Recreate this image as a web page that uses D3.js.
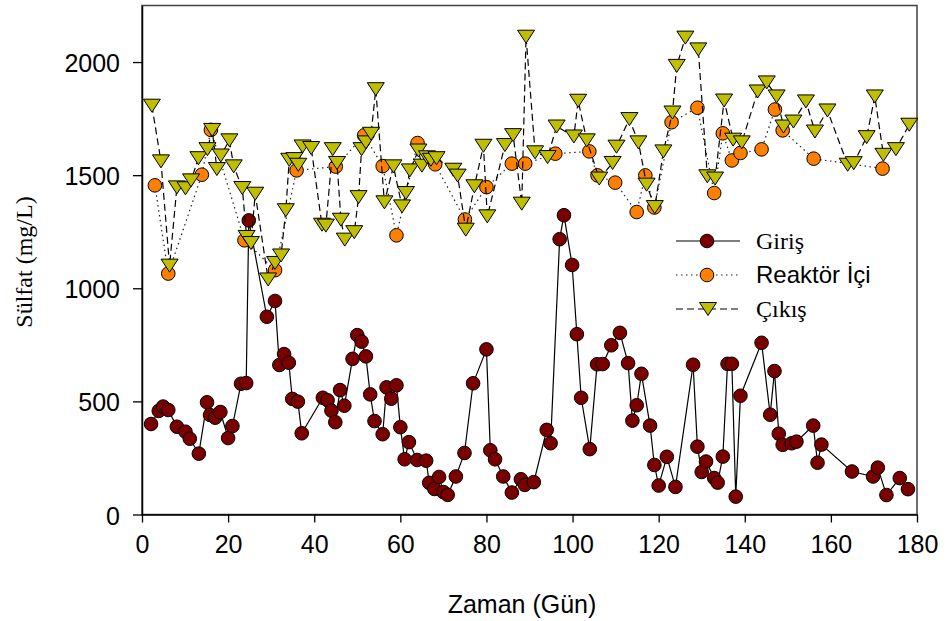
<!DOCTYPE html>
<html><head><meta charset="utf-8">
<script src="https://cdn.jsdelivr.net/npm/d3@7"></script>
<style>body{margin:0;background:#fff}svg{display:block}</style>
</head><body><svg id="c" width="947" height="621"></svg>
<script>
const xTicks = [0,20,40,60,80,100,120,140,160,180];
const yTicks = [0,500,1000,1500,2000];
const seriesNames = ["Giriş","Reaktör İçi","Çıkış"];

const girisDays = [2.1,3.9,4.9,6.1,8.1,10.1,11.1,13.2,15.1,15.8,17,18.2,20,21,23,24.2,24.8,29,30.9,31.9,33,34.1,34.9,36.2,37.1,42,43.1,44,44.9,46,47,48.9,50,51,52,53,54,55.9,56.8,57.9,59.1,60,61,62,63.9,66,66.7,67.9,69,70,71,72.9,74.9,76.9,80,80.9,82,83.9,85.9,88,88.9,91,94,94.9,97,98,99.9,101,102,104,105.7,107,109,111,112.9,113.9,114.9,116,118,119,120,121.9,123.9,128,129,130,131,132.9,133.7,134.9,136,137,137.9,139,143.9,145.9,146.9,147.9,148.8,150.9,152,155.9,156.9,157.8,164.9,169.8,170.9,172.9,176,177.9];
const girisValues = [400,458,477,462,388,366,335,269,496,440,428,453,338,391,578,581,1300,874,944,661,709,671,511,499,359,516,505,459,408,550,481,688,793,764,699,531,413,355,562,512,571,386,244,320,241,238,140,113,166,99,87,168,272,580,730,284,244,168,97,156,131,143,374,315,1217,1323,1103,797,516,289,664,665,748,803,669,415,483,622,393,219,128,255,122,662,300,188,234,161,141,256,666,666,79,525,759,441,634,357,308,315,322,393,229,309,190,168,207,86,161,112];

const reaktorDays = [3,6.1,13.9,16,23.8,30.9,35.9,45,51.6,55.9,59.1,64,68.1,75,80,85.9,89,96,103.9,105.8,109.9,114.9,116.9,119,123,129,132.9,134.9,137,139,143.9,147,148.8,156,172];
const reaktorValues = [1455,1065,1502,1700,1212,1080,1521,1538,1676,1540,1234,1642,1548,1304,1447,1551,1551,1595,1605,1499,1467,1337,1499,1357,1734,1798,1421,1685,1565,1598,1614,1790,1698,1573,1529];

const cikisDays = [2.3,4.4,6.4,8.1,10.1,11.4,13.1,15.2,16.3,17.4,18.3,20.3,21.3,23.3,24.3,25.3,26.3,29.3,30.9,32.3,33.4,34.2,35.4,36.3,37.3,39.3,41.8,42.7,44.3,45.3,46.2,47.1,49.3,50.3,51,52,53.2,54.3,56.3,58.4,60.4,61.3,62.2,64.2,65,66.2,67.1,68.4,72.3,73.3,75.2,77.2,79.3,80.2,84.3,86.2,88.2,89.2,91.3,94.2,96.3,100.3,101.3,103.3,106.2,109.3,110.2,113.2,115.3,117.2,119.1,121.1,123.2,124.2,126.2,129.2,131.3,133.1,135.2,137.3,139.3,143,145.1,147.4,149,151.3,154.2,156.3,159.2,163.9,165.3,168.3,170.2,172.2,175.1,178.2];
const cikisValues = [1807,1561,1100,1446,1442,1477,1575,1615,1700,1527,1587,1654,1539,1443,1227,1200,1418,1039,1112,1145,1345,1568,1571,1546,1627,1620,1281,1277,1615,1554,1303,1215,1248,1403,1615,1645,1683,1880,1380,1539,1362,1421,1521,1609,1542,1579,1568,1575,1524,1498,1259,1451,1630,1318,1633,1677,1374,2112,1601,1580,1715,1671,1829,1654,1485,1554,1626,1748,1645,1458,1359,1605,1777,1983,2108,2056,1495,1485,1830,1657,1645,1870,1910,1848,1715,1737,1826,1693,1786,1546,1553,1668,1848,1590,1615,1723];

const svg = d3.select("#c");
const x = d3.scaleLinear().domain([0,180]).range([142,917]);
const y = d3.scaleLinear().domain([0,2250]).range([514.5,5.5]);

// frame
svg.append("rect").attr("x",142).attr("y",5.5).attr("width",775).attr("height",509)
  .attr("fill","none").attr("stroke","#404040").attr("stroke-width",1.5);

const xAxis = svg.append("g").attr("transform","translate(0,514.5)")
  .call(d3.axisBottom(x).tickValues(xTicks).tickSize(8).tickSizeOuter(0).tickPadding(8).tickFormat(d3.format("d")));
const yAxis = svg.append("g").attr("transform","translate(142,0)")
  .call(d3.axisLeft(y).tickValues(yTicks).tickSize(9).tickSizeOuter(0).tickPadding(13).tickFormat(d3.format("d")));
[xAxis,yAxis].forEach(a=>{
  a.select(".domain").attr("stroke","#000").attr("stroke-width",1.5);
  a.selectAll(".tick line").attr("stroke","#000").attr("stroke-width",1.3);
  a.selectAll("text").attr("font-family","'Liberation Sans',Arial,sans-serif").attr("font-size",25).attr("fill","#000");
});
xAxis.selectAll("text").attr("dy","0.9em");
yAxis.selectAll("text").attr("dy","0.38em");

svg.append("text").attr("x",522).attr("y",613).attr("text-anchor","middle")
  .attr("font-family","'Liberation Sans',Arial,sans-serif").attr("font-size",25).text("Zaman (Gün)");
svg.append("text").attr("transform","translate(32,262) rotate(-90)").attr("text-anchor","middle")
  .attr("font-family","'Liberation Serif','Times New Roman',serif").attr("font-size",24).text("Sülfat (mg/L)");

const tri = "M-8.5,-6.5L8.5,-6.5L0,6.5Z";
function zip(a,b){return a.map((d,i)=>({x:d,y:b[i]}));}
const line = d3.line().x(d=>x(d.x)).y(d=>y(d.y));
const series = [
  {data:zip(girisDays,girisValues), dash:null, lc:"#000", fill:"#7a0000", shape:"c"},
  {data:zip(reaktorDays,reaktorValues), dash:"1.5,3.5", lc:"#222", fill:"#ff8000", shape:"c"},
  {data:zip(cikisDays,cikisValues), dash:"7,4", lc:"#000", fill:"#bfbf00", shape:"t"}
];
series.forEach(s=>{
  svg.append("path").attr("d",line(s.data)).attr("fill","none").attr("stroke",s.lc)
    .attr("stroke-width",1.2).attr("stroke-dasharray",s.dash);
  const g = svg.append("g");
  if(s.shape==="c"){
    g.selectAll("circle").data(s.data).join("circle").attr("cx",d=>x(d.x)).attr("cy",d=>y(d.y))
      .attr("r",6.8).attr("fill",s.fill).attr("stroke","#000").attr("stroke-width",1);
  } else {
    g.selectAll("path").data(s.data).join("path").attr("d",tri)
      .attr("transform",d=>`translate(${x(d.x)},${y(d.y)})`)
      .attr("fill",s.fill).attr("stroke","#000").attr("stroke-width",1);
  }
});

// legend
const legY = [241,275,309];
const legFonts = ["'Liberation Serif','Times New Roman',serif","'Liberation Sans',Arial,sans-serif","'Liberation Serif','Times New Roman',serif"];
series.forEach((s,i)=>{
  const ly = legY[i];
  svg.append("line").attr("x1",676).attr("x2",740).attr("y1",ly).attr("y2",ly)
    .attr("stroke",s.lc).attr("stroke-width",1.2).attr("stroke-dasharray",s.dash);
  if(s.shape==="c"){
    svg.append("circle").attr("cx",707).attr("cy",ly).attr("r",6.8).attr("fill",s.fill).attr("stroke","#000");
  } else {
    svg.append("path").attr("d",tri).attr("transform",`translate(708,${ly})`).attr("fill",s.fill).attr("stroke","#000");
  }
  svg.append("text").attr("x",756).attr("y",ly+8).attr("font-family",legFonts[i])
    .attr("font-size",24).text(seriesNames[i]);
});
</script></body></html>
